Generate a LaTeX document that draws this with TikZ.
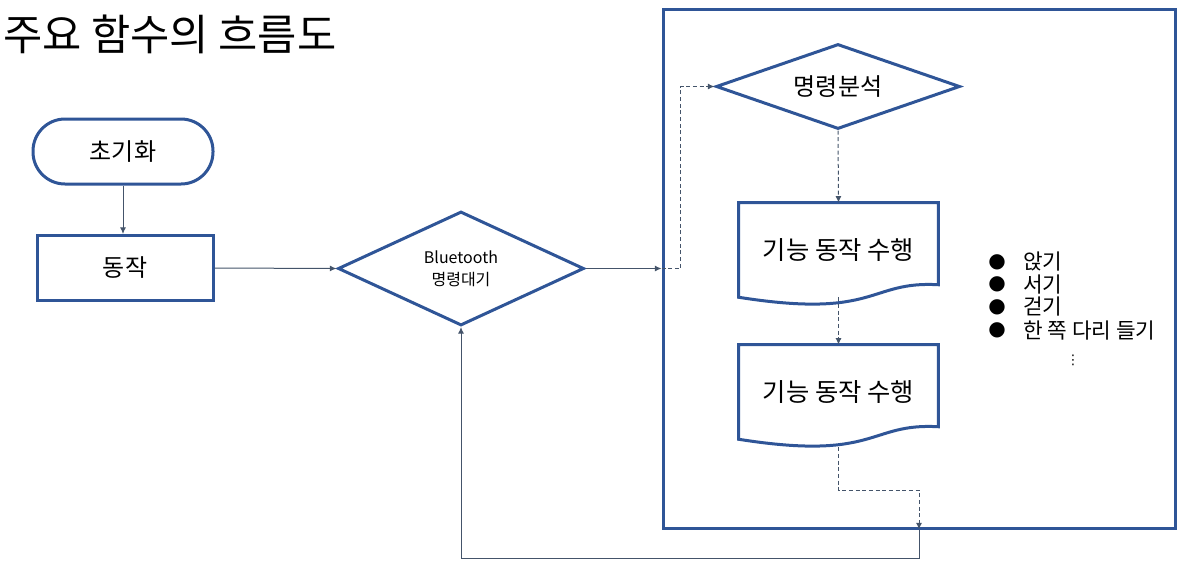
\documentclass[tikz,border=0pt]{standalone}
\usepackage{fontspec}
\usepackage{tikz}
\usetikzlibrary{shapes.geometric,arrows.meta}
\newfontfamily\krfont{Noto Sans CJK KR}
\newfontfamily\symfont{DejaVu Sans}
\definecolor{myshapecolor}{HTML}{2F5597}
\definecolor{mylinecolor}{HTML}{44546A}
\tikzset{
  myshape/.style={draw=myshapecolor, line width=2.25pt, fill=white, inner sep=0pt, font=\krfont},
  mydiamond/.style={myshape, diamond, align=center},
  mydoc/.style={rectangle, inner sep=0pt, font=\krfont},
  mylink/.style={draw=mylinecolor, line width=0.75pt, -{Latex[length=5pt,width=4.5pt]}},
  mydashlink/.style={mylink, dash pattern=on 3pt off 2pt},
  mytext/.style={inner sep=0pt, font=\krfont}
}

\begin{document}
\begin{tikzpicture}[x=0.75pt, y=-0.75pt]%
\useasboundingbox (0,0) rectangle (1186,565);%
\node[mytext, anchor=west] (title) at (3, 34) {\fontsize{32pt}{32pt}\selectfont 주요 함수의 흐름도};%
\node[myshape, rectangle, minimum width=384pt, minimum height=389.25pt, fill=none] (frame) at (919, 268.5) {};%
\node[myshape, rectangle, rounded corners=24pt, minimum width=135pt, minimum height=48.75pt] (init) at (123, 151.5) {\fontsize{18pt}{18pt}\selectfont 초기화};%
\node[myshape, rectangle, minimum width=132pt, minimum height=48.75pt] (act) at (125, 268) {\fontsize{18pt}{18pt}\selectfont 동작};%
\node[mydiamond, aspect=2.16, minimum width=184.5pt, minimum height=85.5pt, font=\krfont\fontsize{12pt}{16.5pt}\selectfont] (wait) at (461, 268.5) {Bluetooth\\명령대기};%
\node[mydiamond, aspect=2.87, minimum width=183pt, minimum height=63.75pt] (cmd) at (838, 86.5) {\fontsize{18pt}{18pt}\selectfont 명령분석};%
\node[mydoc, minimum width=149.25pt, minimum height=70.5pt] (doc1) at (838.5, 250) {\fontsize{19pt}{19pt}\selectfont 기능 동작 수행};%
\node[mydoc, minimum width=149.25pt, minimum height=70.5pt] (doc2) at (838.5, 392) {\fontsize{19pt}{19pt}\selectfont 기능 동작 수행};%
\draw[draw=myshapecolor, line width=2.25pt] (doc1.south west) |- (doc1.north east) -- ++(0, 82) .. controls ++(-70, -4) and ++(139, 22) .. (doc1.south west) -- cycle;%
\draw[draw=myshapecolor, line width=2.25pt] (doc2.south west) |- (doc2.north east) -- ++(0, 82) .. controls ++(-70, -4) and ++(139, 22) .. (doc2.south west) -- cycle;%
\node[mytext, anchor=west] (item1) at (1023, 262) {\fontsize{16pt}{16pt}\selectfont 앉기};%
\node[mytext, anchor=west] (item2) at (1023, 284.5) {\fontsize{16pt}{16pt}\selectfont 서기};%
\node[mytext, anchor=west] (item3) at (1023, 307) {\fontsize{16pt}{16pt}\selectfont 걷기};%
\node[mytext, anchor=west] (item4) at (1023, 330.5) {\fontsize{16pt}{16pt}\selectfont 한 쪽 다리 들기};%
\node[mytext] (bullet1) at (997, 262) {\symfont\fontsize{15pt}{15pt}\selectfont ●};%
\node[mytext] (bullet2) at (997, 284.5) {\symfont\fontsize{15pt}{15pt}\selectfont ●};%
\node[mytext] (bullet3) at (997, 307) {\symfont\fontsize{15pt}{15pt}\selectfont ●};%
\node[mytext] (bullet4) at (997, 330.5) {\symfont\fontsize{15pt}{15pt}\selectfont ●};%
\node[mytext] (dots) at (1073, 360) {\symfont\fontsize{10pt}{10pt}\selectfont ⋮};%
\draw[mylink] (init.south) -- (init.south |- act.north);%
\draw[mylink] (act.east) -- (wait.west);%
\draw[mylink] (wait.east) -- (frame.west);%
\draw[mydashlink] (frame.west) -- ++(19, 0) |- (cmd.west);%
\draw[mydashlink] (cmd.south) -- (doc1.north);%
\draw[mydashlink] (doc1.south) -- (doc2.north);%
\draw[mydashlink] (doc2.south) ++(0, 8) -- ++(0, 43) -| (frame.south);%
\draw[mylink] (frame.south) -- ++(0, 29) -| (wait.south);%
\end{tikzpicture}
\end{document}
